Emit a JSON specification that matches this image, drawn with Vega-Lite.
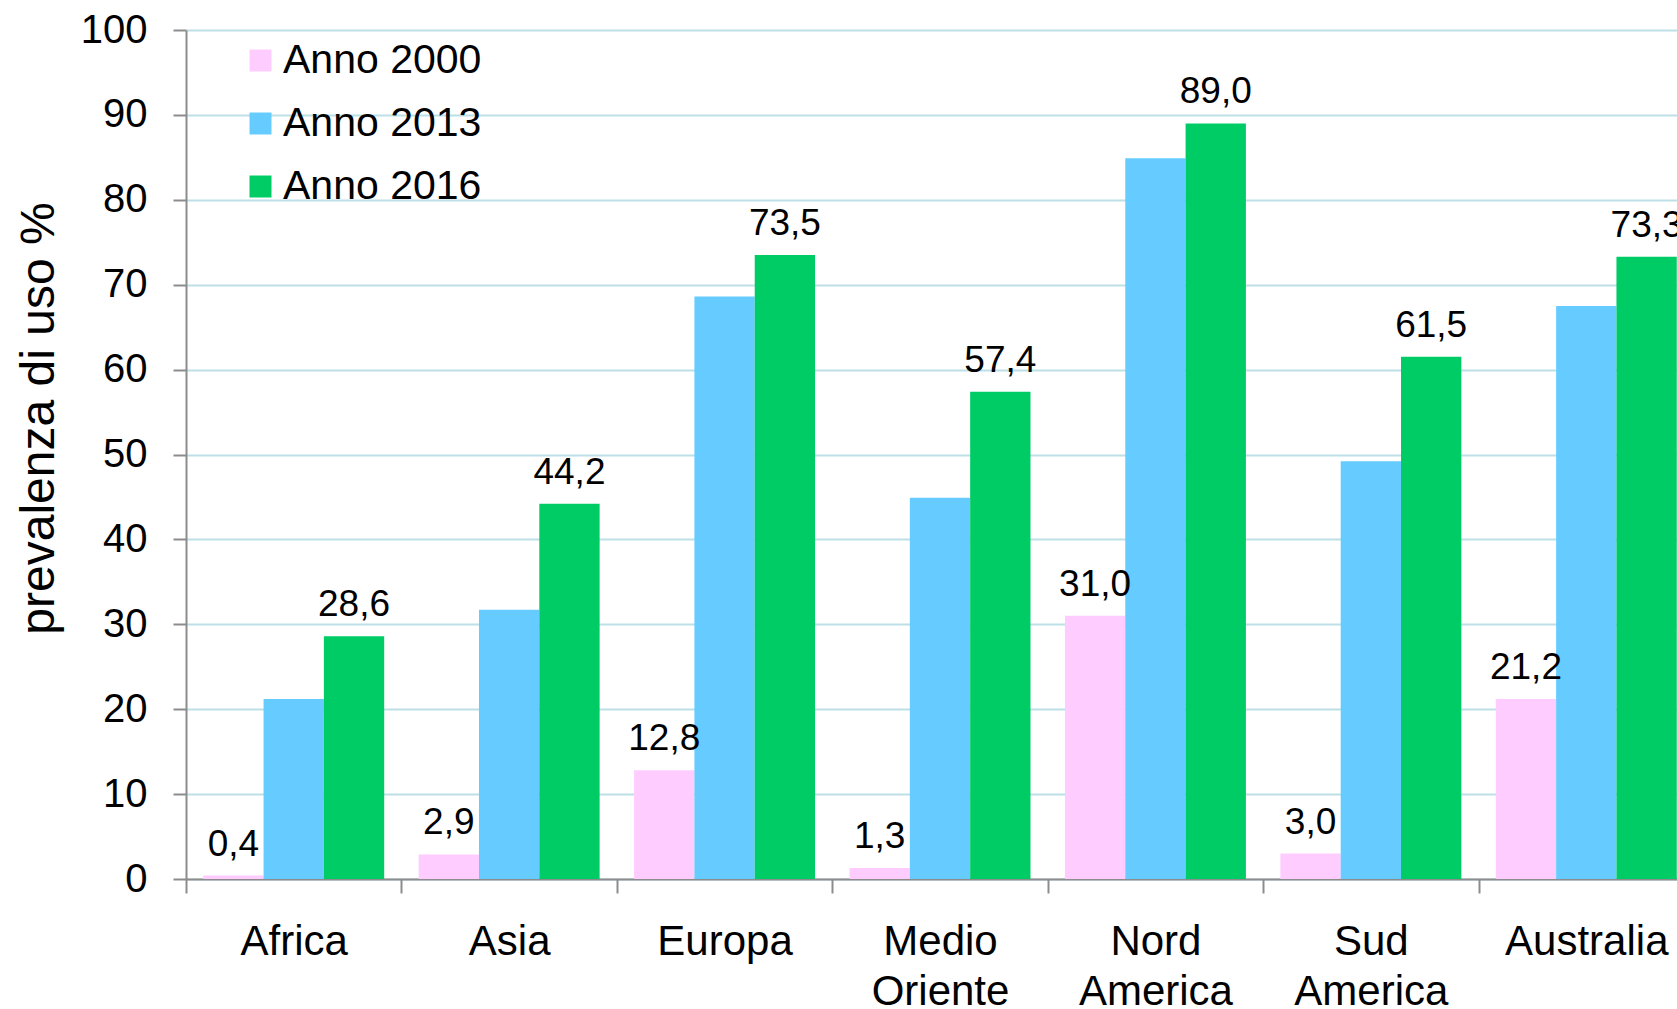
{
  "$schema": "https://vega.github.io/schema/vega-lite/v6.json",
  "width": 1491,
  "height": 849,
  "autosize": {"type": "none"},
  "padding": {"left": 186, "top": 30, "right": 0, "bottom": 130},
  "background": "white",
  "data": {
    "values": [
      {"regione": "Africa", "anno": "Anno 2000", "valore": 0.4},
      {"regione": "Africa", "anno": "Anno 2013", "valore": 21.2},
      {"regione": "Africa", "anno": "Anno 2016", "valore": 28.6},
      {"regione": "Asia", "anno": "Anno 2000", "valore": 2.9},
      {"regione": "Asia", "anno": "Anno 2013", "valore": 31.7},
      {"regione": "Asia", "anno": "Anno 2016", "valore": 44.2},
      {"regione": "Europa", "anno": "Anno 2000", "valore": 12.8},
      {"regione": "Europa", "anno": "Anno 2013", "valore": 68.6},
      {"regione": "Europa", "anno": "Anno 2016", "valore": 73.5},
      {"regione": "Medio Oriente", "anno": "Anno 2000", "valore": 1.3},
      {"regione": "Medio Oriente", "anno": "Anno 2013", "valore": 44.9},
      {"regione": "Medio Oriente", "anno": "Anno 2016", "valore": 57.4},
      {"regione": "Nord America", "anno": "Anno 2000", "valore": 31.0},
      {"regione": "Nord America", "anno": "Anno 2013", "valore": 84.9},
      {"regione": "Nord America", "anno": "Anno 2016", "valore": 89.0},
      {"regione": "Sud America", "anno": "Anno 2000", "valore": 3.0},
      {"regione": "Sud America", "anno": "Anno 2013", "valore": 49.2},
      {"regione": "Sud America", "anno": "Anno 2016", "valore": 61.5},
      {"regione": "Australia", "anno": "Anno 2000", "valore": 21.2},
      {"regione": "Australia", "anno": "Anno 2013", "valore": 67.5},
      {"regione": "Australia", "anno": "Anno 2016", "valore": 73.3}
    ]
  },
  "encoding": {
    "x": {
      "field": "regione",
      "type": "nominal",
      "sort": ["Africa", "Asia", "Europa", "Medio Oriente", "Nord America", "Sud America", "Australia"],
      "scale": {"range": [0, 1508], "paddingInner": 0, "paddingOuter": 0},
      "axis": {
        "title": null,
        "labelAngle": 0,
        "labelExpr": "split(datum.label, ' ')",
        "labelFont": "Liberation Sans",
        "labelFontSize": 42,
        "labelColor": "#000000",
        "labelLineHeight": 50,
        "labelPadding": 28,
        "labelBaseline": "top",
        "tickSize": 14,
        "tickBand": "extent",
        "tickColor": "#8C8C8C",
        "tickWidth": 2,
        "domainColor": "#8C8C8C",
        "domainWidth": 2,
        "grid": false
      }
    },
    "xOffset": {
      "field": "anno",
      "type": "nominal",
      "sort": ["Anno 2000", "Anno 2013", "Anno 2016"],
      "scale": {"paddingInner": 0, "paddingOuter": 0.2857}
    },
    "y": {
      "field": "valore",
      "type": "quantitative",
      "scale": {"domain": [0, 100], "nice": false},
      "axis": {
        "title": "prevalenza di uso %",
        "titleFont": "Liberation Sans",
        "titleFontSize": 48,
        "titleFontWeight": "normal",
        "titleColor": "#000000",
        "titleX": -133,
        "titleY": 388,
        "titleAngle": -90,
        "titleAlign": "center",
        "titleBaseline": "alphabetic",
        "values": [0, 10, 20, 30, 40, 50, 60, 70, 80, 90, 100],
        "labelFont": "Liberation Sans",
        "labelFontSize": 40,
        "labelColor": "#000000",
        "labelPadding": 26,
        "tickSize": 13,
        "tickColor": "#8C8C8C",
        "tickWidth": 2,
        "domainColor": "#8C8C8C",
        "domainWidth": 2,
        "grid": true,
        "gridColor": "#BCE0E5",
        "gridWidth": 2
      }
    }
  },
  "layer": [
    {
      "mark": {"type": "bar"},
      "encoding": {
        "color": {
          "field": "anno",
          "type": "nominal",
          "scale": {
            "domain": ["Anno 2000", "Anno 2013", "Anno 2016"],
            "range": ["#FFCCFF", "#66CCFF", "#00CC66"]
          },
          "legend": {
            "orient": "none",
            "legendX": 54,
            "legendY": 10,
            "title": null,
            "symbolType": "square",
            "symbolSize": 484,
            "symbolStrokeWidth": 0,
            "labelFont": "Liberation Sans",
            "labelFontSize": 41,
            "labelColor": "#000000",
            "labelLimit": 0,
            "labelOffset": 2,
            "rowPadding": 21,
            "padding": 0
          }
        }
      }
    },
    {
      "transform": [{"filter": "datum.anno != 'Anno 2013'"}],
      "mark": {
        "type": "text",
        "baseline": "alphabetic",
        "dy": -20,
        "font": "Liberation Sans",
        "fontSize": 37,
        "color": "#000000"
      },
      "encoding": {
        "text": {"field": "valore", "type": "quantitative", "format": ".1f"}
      }
    }
  ],
  "config": {
    "view": {"stroke": null},
    "locale": {
      "number": {"decimal": ",", "thousands": ".", "grouping": [3], "currency": ["", " €"]}
    }
  }
}
